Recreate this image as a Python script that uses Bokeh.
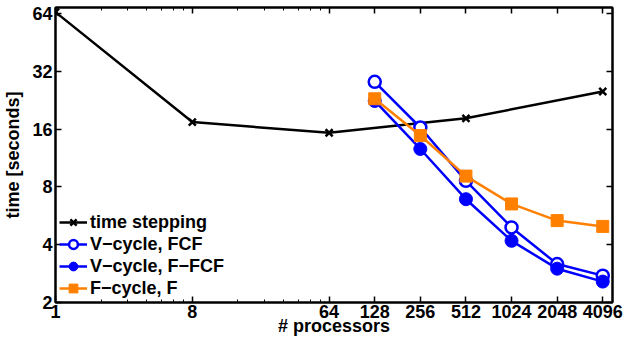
from bokeh.plotting import figure
from bokeh.models import (Range1d, FixedTicker, LogAxis, Legend, CustomJSTickFormatter)
from bokeh.embed import file_html
from bokeh.resources import INLINE

# ---- data ----
x_ts = [1, 8, 64, 512, 4096]
y_ts = [65.0, 17.4, 15.3, 18.2, 25.1]

x_mg = [128, 256, 512, 1024, 2048, 4096]
y_vfcf = [28.2, 16.3, 8.6, 4.92, 3.17, 2.76]
y_vffcf = [22.4, 12.6, 6.9, 4.19, 3.0, 2.57]
y_ff = [23.0, 14.8, 9.1, 6.52, 5.34, 4.98]

x_ticks = [1, 8, 64, 128, 256, 512, 1024, 2048, 4096]
x_minor = [2, 3, 4, 5, 6, 7, 16, 24, 32, 40, 48, 56]
y_ticks = [2, 4, 8, 16, 32, 64]

labels = ["time stepping", "V\u2212cycle, FCF", "V\u2212cycle, F\u2212FCF", "F\u2212cycle, F"]
x_title = "# processors"
y_title = "time [seconds]"

FONT = "Liberation Sans"
FS = "18px"
BLUE = "#0000ff"
ORANGE = "#ff8000"

X0, X1 = 1, 4750
Y0, Y1 = 2, 68.7

p = figure(width=626, height=338, x_axis_type="log", y_axis_type="log",
           x_range=Range1d(X0, X1), y_range=Range1d(Y0, Y1),
           output_backend="svg", toolbar_location=None,
           min_border_left=50, min_border_right=14, min_border_top=7, min_border_bottom=0)

p.grid.visible = False
p.background_fill_color = "white"
p.border_fill_color = "white"
p.outline_line_color = "black"
p.outline_line_width = 2

def style_axis(ax):
    ax.axis_line_color = "black"
    ax.axis_line_width = 2
    ax.major_tick_in = 6
    ax.major_tick_out = 0
    ax.minor_tick_in = 3
    ax.minor_tick_out = 0
    ax.major_tick_line_color = "black"
    ax.minor_tick_line_color = "black"
    ax.major_tick_line_width = 1.5
    ax.minor_tick_line_width = 1
    ax.major_label_text_font = FONT
    ax.major_label_text_font_style = "bold"
    ax.major_label_text_font_size = FS
    ax.major_label_text_color = "black"
    ax.axis_label_text_font = FONT
    ax.axis_label_text_font_style = "bold"
    ax.axis_label_text_font_size = FS
    ax.axis_label_text_color = "black"

xa = p.xaxis[0]
xa.ticker = FixedTicker(ticks=x_ticks, minor_ticks=x_minor)
xa.major_label_overrides = {v: str(v) for v in x_ticks}
xa.axis_label = x_title
xa.major_label_standoff = 2
xa.axis_label_standoff = -5
style_axis(xa)

ya = p.yaxis[0]
ya.ticker = FixedTicker(ticks=y_ticks, minor_ticks=[])
ya.major_label_overrides = {v: str(v) for v in y_ticks}
ya.axis_label = y_title
ya.major_label_standoff = 3
ya.axis_label_standoff = 6
style_axis(ya)

blank = CustomJSTickFormatter(code="return ''")
top = LogAxis(ticker=FixedTicker(ticks=x_ticks, minor_ticks=x_minor),
              formatter=blank, major_label_standoff=0)
style_axis(top)
p.add_layout(top, "above")
right = LogAxis(ticker=FixedTicker(ticks=y_ticks, minor_ticks=[]),
                formatter=blank, major_label_standoff=0)
style_axis(right)
p.add_layout(right, "right")

LW = 2.5
r1l = p.line(x_ts, y_ts, line_color="black", line_width=LW)
r1m = p.scatter(x_ts, y_ts, marker="x", size=10, line_color="black", line_width=2.5)

r2l = p.line(x_mg, y_vfcf, line_color=BLUE, line_width=LW)
r2m = p.scatter(x_mg, y_vfcf, marker="circle", size=12, line_color=BLUE,
                fill_color="white", line_width=2.5)

r3l = p.line(x_mg, y_vffcf, line_color=BLUE, line_width=LW)
r3m = p.scatter(x_mg, y_vffcf, marker="circle", size=13, line_color=BLUE,
                fill_color=BLUE, line_width=1)

r4l = p.line(x_mg, y_ff, line_color=ORANGE, line_width=LW)
r4m = p.scatter(x_mg, y_ff, marker="square", size=12, line_color=ORANGE,
                fill_color=ORANGE, line_width=1)

legend = Legend(items=[(labels[0], [r1l, r1m]), (labels[1], [r2l, r2m]),
                       (labels[2], [r3l, r3m]), (labels[3], [r4l, r4m])],
                location=(4, 3))
legend.background_fill_alpha = 0
legend.border_line_alpha = 0
legend.padding = 0
legend.margin = 0
legend.spacing = 0
legend.glyph_width = 28
legend.glyph_height = 22
legend.label_height = 22
legend.label_standoff = 3
legend.label_text_font = FONT
legend.label_text_font_style = "bold"
legend.label_text_font_size = FS
legend.label_text_color = "black"
p.add_layout(legend, "center")

open("out.html", "w").write(file_html(p, INLINE))
